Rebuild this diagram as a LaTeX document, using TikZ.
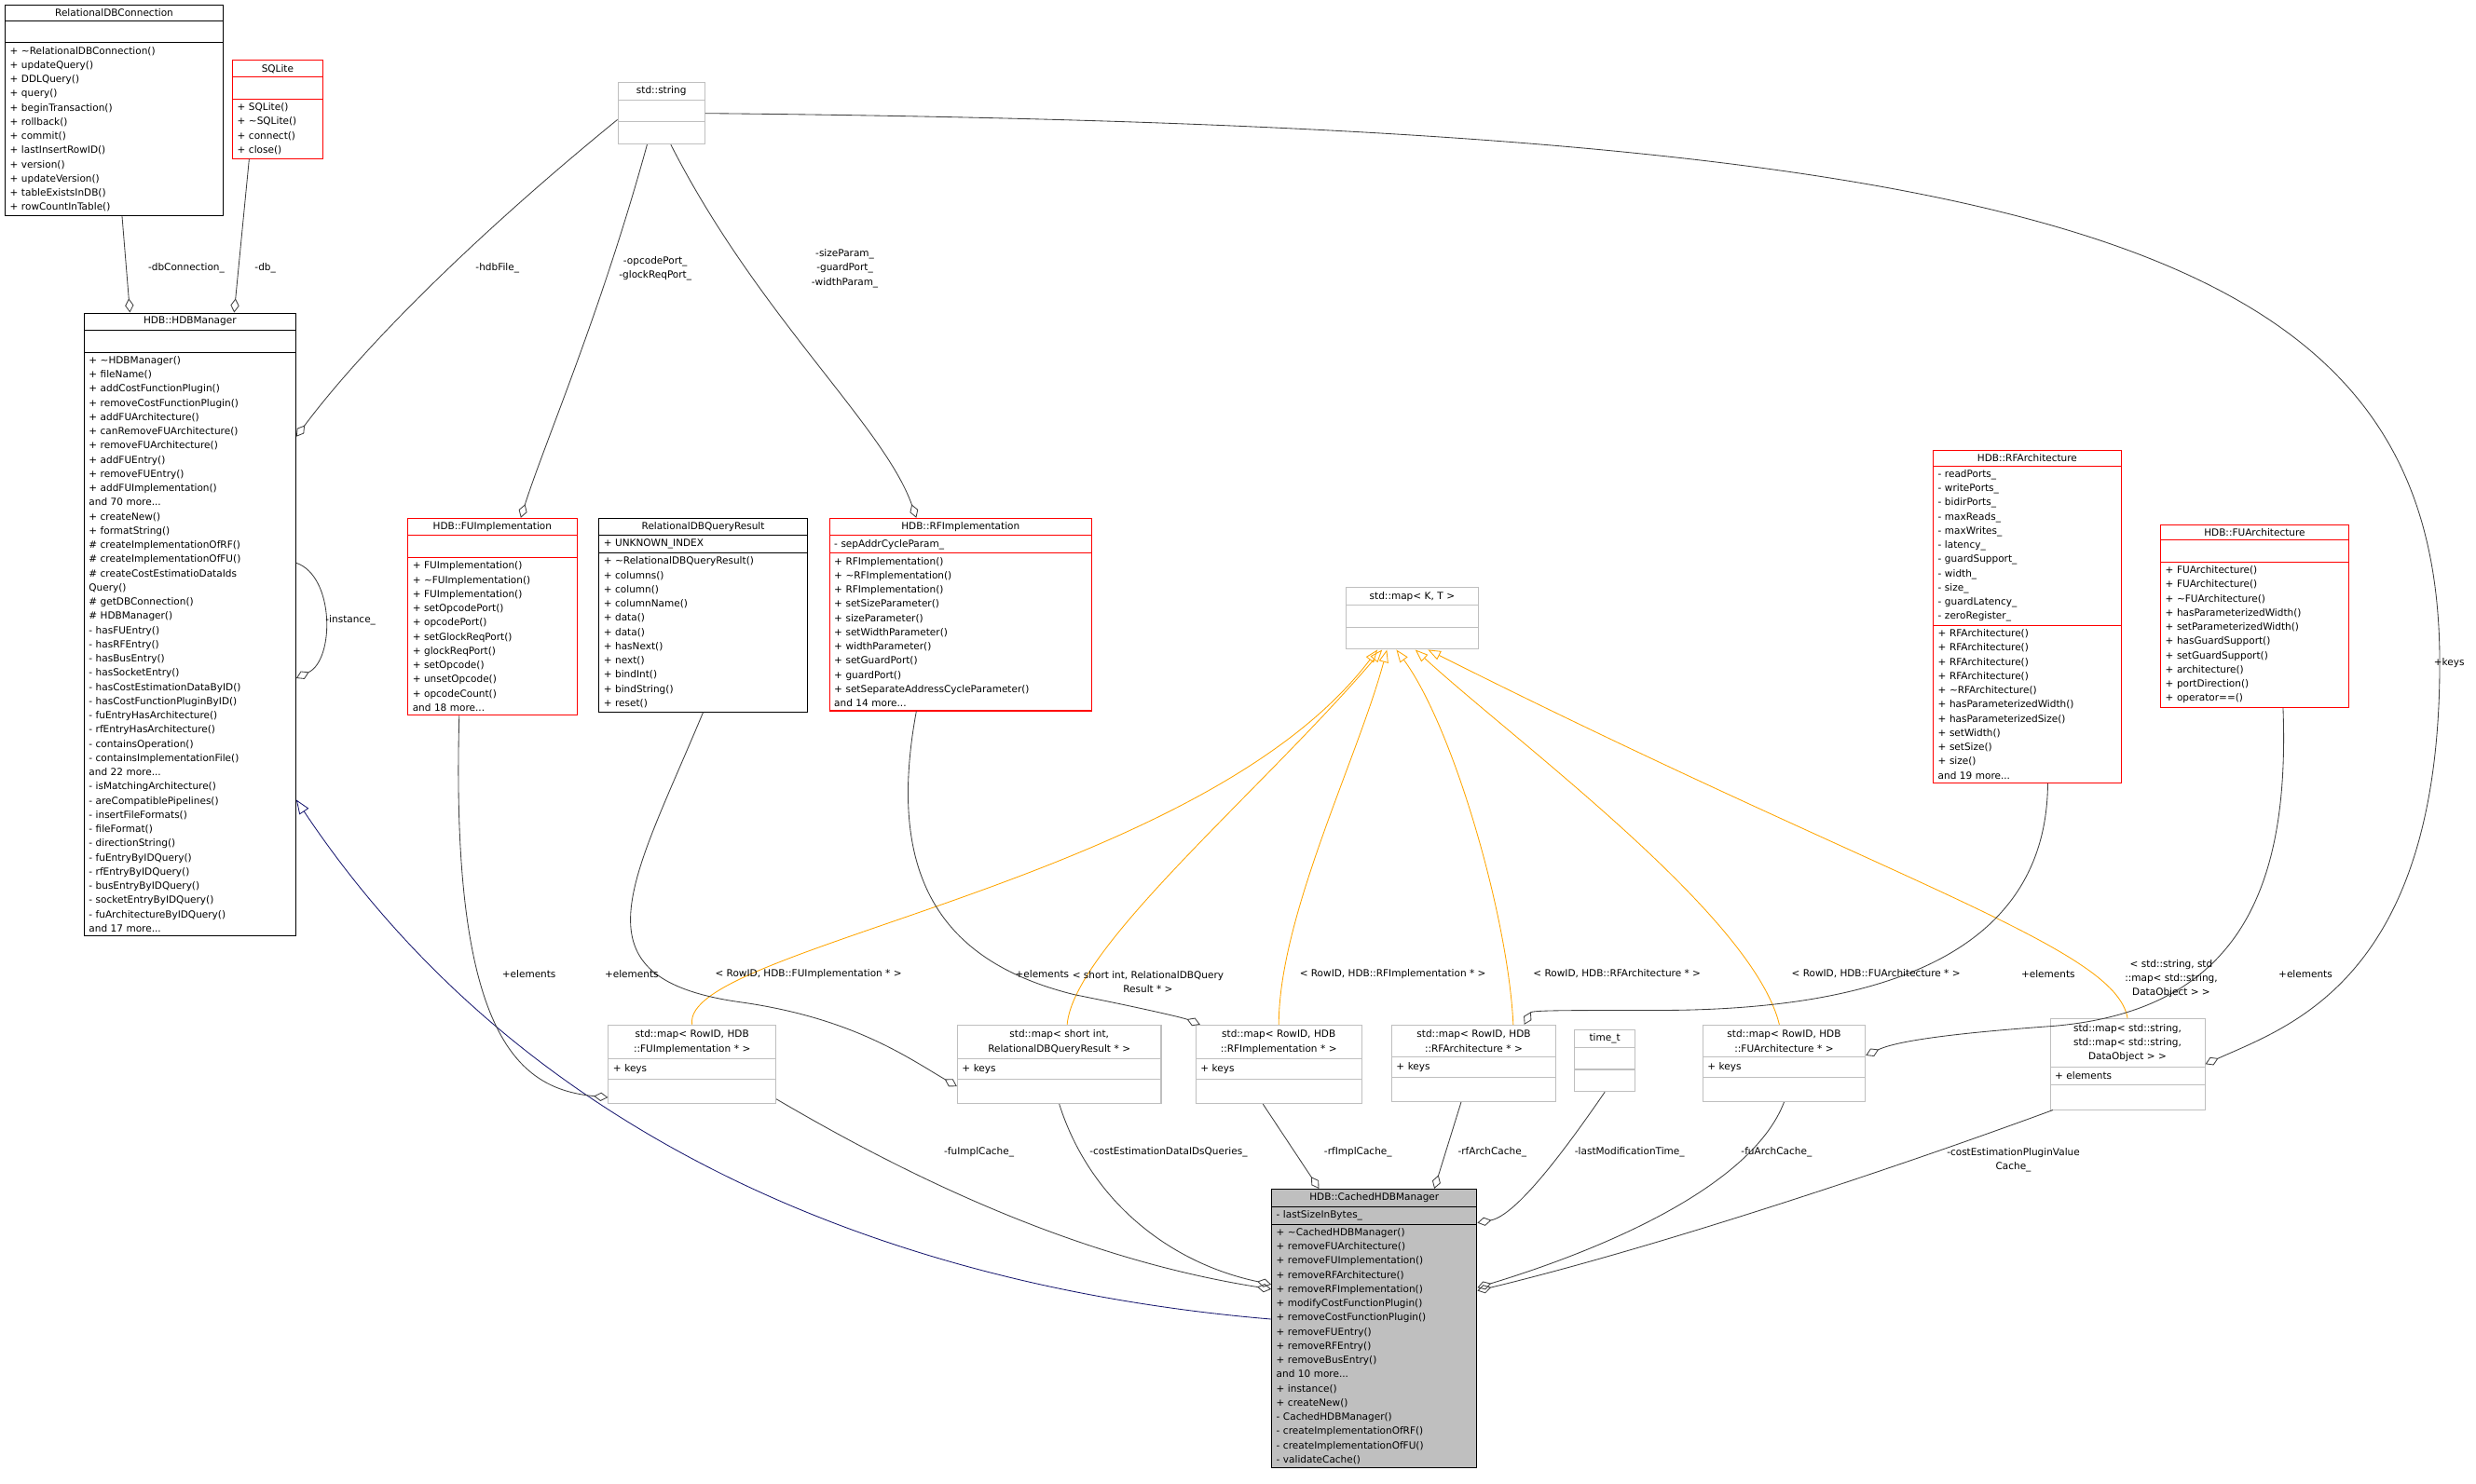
\documentclass[tikz,border=0pt]{standalone}
\usepackage{fontspec}
\usepackage{xcolor}
\usepackage{tikz}
\usetikzlibrary{shapes.multipart, arrows.meta, positioning, calc}
\newfontfamily\dox{DejaVu Sans}
\definecolor{edgegray}{HTML}{404040}
\definecolor{boxgray}{HTML}{BFBFBF}
\definecolor{tplorange}{HTML}{FFA500}
\definecolor{inhblue}{HTML}{191970}
\newcommand{\ttl}[1]{{\centering #1\par}}

\begin{document}
\begin{tikzpicture}[
    x=1pt, y=1pt,
    cls/.style={draw, rectangle split, rectangle split parts=3, anchor=north west,
        inner xsep=3pt, inner ysep=2.2pt, align=left, line width=0.6pt,
        font=\dox\fontsize{6.2}{9}\selectfont},
    redcls/.style={cls, draw=red},
    graycls/.style={cls, draw=boxgray},
    mapcls/.style={graycls, inner ysep=3pt},
    lbl/.style={font=\dox\fontsize{6.2}{9}\selectfont, align=center, inner sep=0pt},
    agg/.style={draw=edgegray, line width=0.5pt, -{Diamond[open,length=9pt,width=5.5pt]}},
    tpl/.style={draw=tplorange, line width=0.5pt, -{Triangle[open,length=8pt,width=6pt]}},
    inh/.style={draw=inhblue, line width=0.5pt, -{Triangle[open,length=9pt,width=7pt]}},
]
\useasboundingbox (0,0) rectangle (1568,-940);

% top classes
\node[cls, text width=132pt] (rdbc) at (3,-3) {\ttl{RelationalDBConnection}
  \nodepart{second}\strut
  \nodepart{third}+ \textasciitilde RelationalDBConnection()\\+ updateQuery()\\+ DDLQuery()\\+ query()\\+ beginTransaction()\\+ rollback()\\+ commit()\\+ lastInsertRowID()\\+ version()\\+ updateVersion()\\+ tableExistsInDB()\\+ rowCountInTable()};

\node[redcls, text width=51pt] (sqlite) at (147,-38) {\ttl{SQLite}
  \nodepart{second}\strut
  \nodepart{third}+ SQLite()\\+ \textasciitilde SQLite()\\+ connect()\\+ close()};

\node[graycls, text width=49pt] (str) at (391,-52) {\ttl{std::string}
  \nodepart{second}\strut
  \nodepart{third}\strut};

% HDBManager
\node[cls, text width=128pt] (hdbm) at (53,-198) {\ttl{HDB::HDBManager}
  \nodepart{second}\strut
  \nodepart{third}+ \textasciitilde HDBManager()\\+ fileName()\\+ addCostFunctionPlugin()\\+ removeCostFunctionPlugin()\\+ addFUArchitecture()\\+ canRemoveFUArchitecture()\\+ removeFUArchitecture()\\+ addFUEntry()\\+ removeFUEntry()\\+ addFUImplementation()\\and 70 more...\\+ createNew()\\+ formatString()\\\# createImplementationOfRF()\\\# createImplementationOfFU()\\\# createCostEstimatioDataIds\\Query()\\\# getDBConnection()\\\# HDBManager()\\- hasFUEntry()\\- hasRFEntry()\\- hasBusEntry()\\- hasSocketEntry()\\- hasCostEstimationDataByID()\\- hasCostFunctionPluginByID()\\- fuEntryHasArchitecture()\\- rfEntryHasArchitecture()\\- containsOperation()\\- containsImplementationFile()\\and 22 more...\\- isMatchingArchitecture()\\- areCompatiblePipelines()\\- insertFileFormats()\\- fileFormat()\\- directionString()\\- fuEntryByIDQuery()\\- rfEntryByIDQuery()\\- busEntryByIDQuery()\\- socketEntryByIDQuery()\\- fuArchitectureByIDQuery()\\and 17 more...};

% middle row
\node[redcls, text width=101pt] (fuimpl) at (258,-328) {\ttl{HDB::FUImplementation}
  \nodepart{second}\strut
  \nodepart{third}+ FUImplementation()\\+ \textasciitilde FUImplementation()\\+ FUImplementation()\\+ setOpcodePort()\\+ opcodePort()\\+ setGlockReqPort()\\+ glockReqPort()\\+ setOpcode()\\+ unsetOpcode()\\+ opcodeCount()\\and 18 more...};

\node[cls, text width=126pt] (rdqr) at (379,-328) {\ttl{RelationalDBQueryResult}
  \nodepart{second}+ UNKNOWN\_INDEX
  \nodepart{third}+ \textasciitilde RelationalDBQueryResult()\\+ columns()\\+ column()\\+ columnName()\\+ data()\\+ data()\\+ hasNext()\\+ next()\\+ bindInt()\\+ bindString()\\+ reset()};

\node[redcls, text width=160pt] (rfimpl) at (525,-328) {\ttl{HDB::RFImplementation}
  \nodepart{second}- sepAddrCycleParam\_
  \nodepart{third}+ RFImplementation()\\+ \textasciitilde RFImplementation()\\+ RFImplementation()\\+ setSizeParameter()\\+ sizeParameter()\\+ setWidthParameter()\\+ widthParameter()\\+ setGuardPort()\\+ guardPort()\\+ setSeparateAddressCycleParameter()\\and 14 more...};

\node[graycls, text width=78pt] (mapkt) at (852,-372) {\ttl{std::map< K, T >}
  \nodepart{second}\strut
  \nodepart{third}\strut};

\node[redcls, text width=113pt] (rfarch) at (1224,-285) {\ttl{HDB::RFArchitecture}
  \nodepart{second}- readPorts\_\\- writePorts\_\\- bidirPorts\_\\- maxReads\_\\- maxWrites\_\\- latency\_\\- guardSupport\_\\- width\_\\- size\_\\- guardLatency\_\\- zeroRegister\_
  \nodepart{third}+ RFArchitecture()\\+ RFArchitecture()\\+ RFArchitecture()\\+ RFArchitecture()\\+ \textasciitilde RFArchitecture()\\+ hasParameterizedWidth()\\+ hasParameterizedSize()\\+ setWidth()\\+ setSize()\\+ size()\\and 19 more...};

\node[redcls, text width=113pt] (fuarch) at (1368,-332) {\ttl{HDB::FUArchitecture}
  \nodepart{second}\strut
  \nodepart{third}+ FUArchitecture()\\+ FUArchitecture()\\+ \textasciitilde FUArchitecture()\\+ hasParameterizedWidth()\\+ setParameterizedWidth()\\+ hasGuardSupport()\\+ setGuardSupport()\\+ architecture()\\+ portDirection()\\+ operator==()};

% map row
\node[mapcls, text width=100pt] (mapfui) at (385,-649) {\ttl{std::map< RowID, HDB\\::FUImplementation * >}
  \nodepart{second}+ keys
  \nodepart{third}\strut};
\node[mapcls, text width=123pt] (mapsi) at (606,-649) {\ttl{std::map< short int,\\RelationalDBQueryResult * >}
  \nodepart{second}+ keys
  \nodepart{third}\strut};
\node[mapcls, text width=99pt] (maprfi) at (757,-649) {\ttl{std::map< RowID, HDB\\::RFImplementation * >}
  \nodepart{second}+ keys
  \nodepart{third}\strut};
\node[mapcls, text width=98pt] (maprfa) at (881,-649) {\ttl{std::map< RowID, HDB\\::RFArchitecture * >}
  \nodepart{second}+ keys
  \nodepart{third}\strut};
\node[graycls, text width=32pt] (timet) at (997,-652) {\ttl{time\_t}
  \nodepart{second}\strut
  \nodepart{third}\strut};
\node[mapcls, text width=97pt] (mapfua) at (1078,-649) {\ttl{std::map< RowID, HDB\\::FUArchitecture * >}
  \nodepart{second}+ keys
  \nodepart{third}\strut};
\node[mapcls, text width=92pt] (mapstr) at (1298,-645) {\ttl{std::map< std::string,\\std::map< std::string,\\DataObject > >}
  \nodepart{second}+ elements
  \nodepart{third}\strut};

% CachedHDBManager
\node[cls, fill=boxgray, text width=124pt] (cached) at (805,-753) {\ttl{HDB::CachedHDBManager}
  \nodepart{second}- lastSizeInBytes\_
  \nodepart{third}+ \textasciitilde CachedHDBManager()\\+ removeFUArchitecture()\\+ removeFUImplementation()\\+ removeRFArchitecture()\\+ removeRFImplementation()\\+ modifyCostFunctionPlugin()\\+ removeCostFunctionPlugin()\\+ removeFUEntry()\\+ removeRFEntry()\\+ removeBusEntry()\\and 10 more...\\+ instance()\\+ createNew()\\- CachedHDBManager()\\- createImplementationOfRF()\\- createImplementationOfFU()\\- validateCache()};

% HDBManager members
\draw[agg] ([xshift=5]rdbc.south) -- ([xshift=-38]hdbm.north);
\draw[agg] ([xshift=-18]sqlite.south) -- ([xshift=28]hdbm.north);
\draw[agg] ([yshift=-4]str.west) .. controls (300,-150) and (230,-220) .. ([yshift=119]hdbm.east);
\draw[agg] ([xshift=-9]str.south) .. controls (380,-200) and (345,-280) .. ([xshift=18]fuimpl.north);
\draw[agg] ([xshift=6]str.south) .. controls (480,-200) and (560,-270) .. ([xshift=-28]rfimpl.north);
\draw[agg] (str.east) .. controls (1300,-80) and (1545,-150) .. (1545,-420)
    .. controls (1545,-620) and (1450,-650) .. (mapstr.east);
\draw[agg] ([yshift=39]hdbm.east) .. controls (212,-365) and (212,-418) .. ([yshift=-34]hdbm.east);
\draw[inh] ([yshift=6]cached.west) .. controls (560,-815) and (330,-720) .. ([yshift=-111]hdbm.east);

% template instances
\draw[tpl] (mapfui.north) .. controls (430,-600) and (760,-560) .. ([xshift=-22]mapkt.south);
\draw[tpl] ([xshift=5]mapsi.north) .. controls (680,-600) and (800,-500) .. ([xshift=-19]mapkt.south);
\draw[tpl] ([xshift=0]maprfi.north) .. controls (810,-580) and (860,-480) .. ([xshift=-16]mapkt.south);
\draw[tpl] ([xshift=25]maprfa.north) .. controls (955,-580) and (920,-460) .. ([xshift=-10]mapkt.south);
\draw[tpl] ([xshift=-3]mapfua.north) .. controls (1110,-580) and (960,-470) .. ([xshift=2]mapkt.south);
\draw[tpl] (mapstr.north) .. controls (1340,-600) and (1200,-560) .. ([xshift=10]mapkt.south);

% element members
\draw[agg] ([xshift=-21]fuimpl.south) .. controls (285,-660) and (330,-690) .. ([yshift=-21]mapfui.west);
\draw[agg] (rdqr.south) .. controls (400,-560) and (360,-620) .. (470,-635) .. controls (540,-645) and (575,-670) .. ([yshift=-14]mapsi.west);
\draw[agg] ([xshift=-28]rfimpl.south) .. controls (560,-560) and (600,-610) .. (680,-630) .. controls (730,-640) and (750,-645) .. ([xshift=3]maprfi.north west);
\draw[agg] ([xshift=13]rfarch.south) .. controls (1296,-600) and (1200,-640) .. (1050,-640) .. controls (990,-640) and (970,-640) .. ([xshift=32]maprfa.north);
\draw[agg] ([xshift=18]fuarch.south) .. controls (1450,-560) and (1420,-640) .. (1300,-650) .. controls (1230,-655) and (1200,-660) .. ([yshift=5]mapfua.east);

% CachedHDBManager members
\draw[agg] ([yshift=-22]mapfui.east) .. controls (600,-760) and (700,-800) .. ([yshift=25]cached.west);
\draw[agg] (mapsi.south) .. controls (690,-760) and (740,-800) .. ([yshift=28]cached.west);
\draw[agg] ([xshift=-10]maprfi.south) -- ([xshift=-35]cached.north);
\draw[agg] ([xshift=-8]maprfa.south) -- ([xshift=38]cached.north);
\draw[agg] (timet.south) .. controls (990,-730) and (960,-770) .. ([yshift=67]cached.east);
\draw[agg] (mapfua.south) .. controls (1110,-750) and (1020,-790) .. ([yshift=26]cached.east);
\draw[agg] ([xshift=2]mapstr.south west) .. controls (1200,-740) and (1050,-790) .. ([yshift=24]cached.east);

% labels
\node[lbl] (l1) at (118,-170) {-dbConnection\_};
\node[lbl] (l2) at (168,-170) {-db\_};
\node[lbl] (l3) at (315,-170) {-hdbFile\_};
\node[lbl] (l4) at (415,-170) {-opcodePort\_\\-glockReqPort\_};
\node[lbl] (l5) at (535,-170) {-sizeParam\_\\-guardPort\_\\-widthParam\_};
\node[lbl] (l6) at (1551,-420) {+keys};
\node[lbl] (l7) at (222,-393) {-instance\_};
\node[lbl] (l8) at (512,-617) {< RowID, HDB::FUImplementation * >};
\node[lbl] (l9) at (727,-622) {< short int, RelationalDBQuery\\Result * >};
\node[lbl] (l10) at (882,-617) {< RowID, HDB::RFImplementation * >};
\node[lbl] (l11) at (1024,-617) {< RowID, HDB::RFArchitecture * >};
\node[lbl] (l12) at (1188,-617) {< RowID, HDB::FUArchitecture * >};
\node[lbl] (l13) at (1375,-620) {< std::string, std\\::map< std::string,\\DataObject > >};
\node[lbl] (l14) at (335,-617) {+elements};
\node[lbl] (l15) at (400,-617) {+elements};
\node[lbl] (l16) at (660,-617) {+elements};
\node[lbl] (l17) at (1297,-617) {+elements};
\node[lbl] (l18) at (1460,-617) {+elements};
\node[lbl] (l19) at (620,-730) {-fuImplCache\_};
\node[lbl] (l20) at (740,-730) {-costEstimationDataIDsQueries\_};
\node[lbl] (l21) at (860,-730) {-rfImplCache\_};
\node[lbl] (l22) at (945,-730) {-rfArchCache\_};
\node[lbl] (l23) at (1032,-730) {-lastModificationTime\_};
\node[lbl] (l24) at (1125,-730) {-fuArchCache\_};
\node[lbl] (l25) at (1275,-735) {-costEstimationPluginValue\\Cache\_};

\end{tikzpicture}
\end{document}
